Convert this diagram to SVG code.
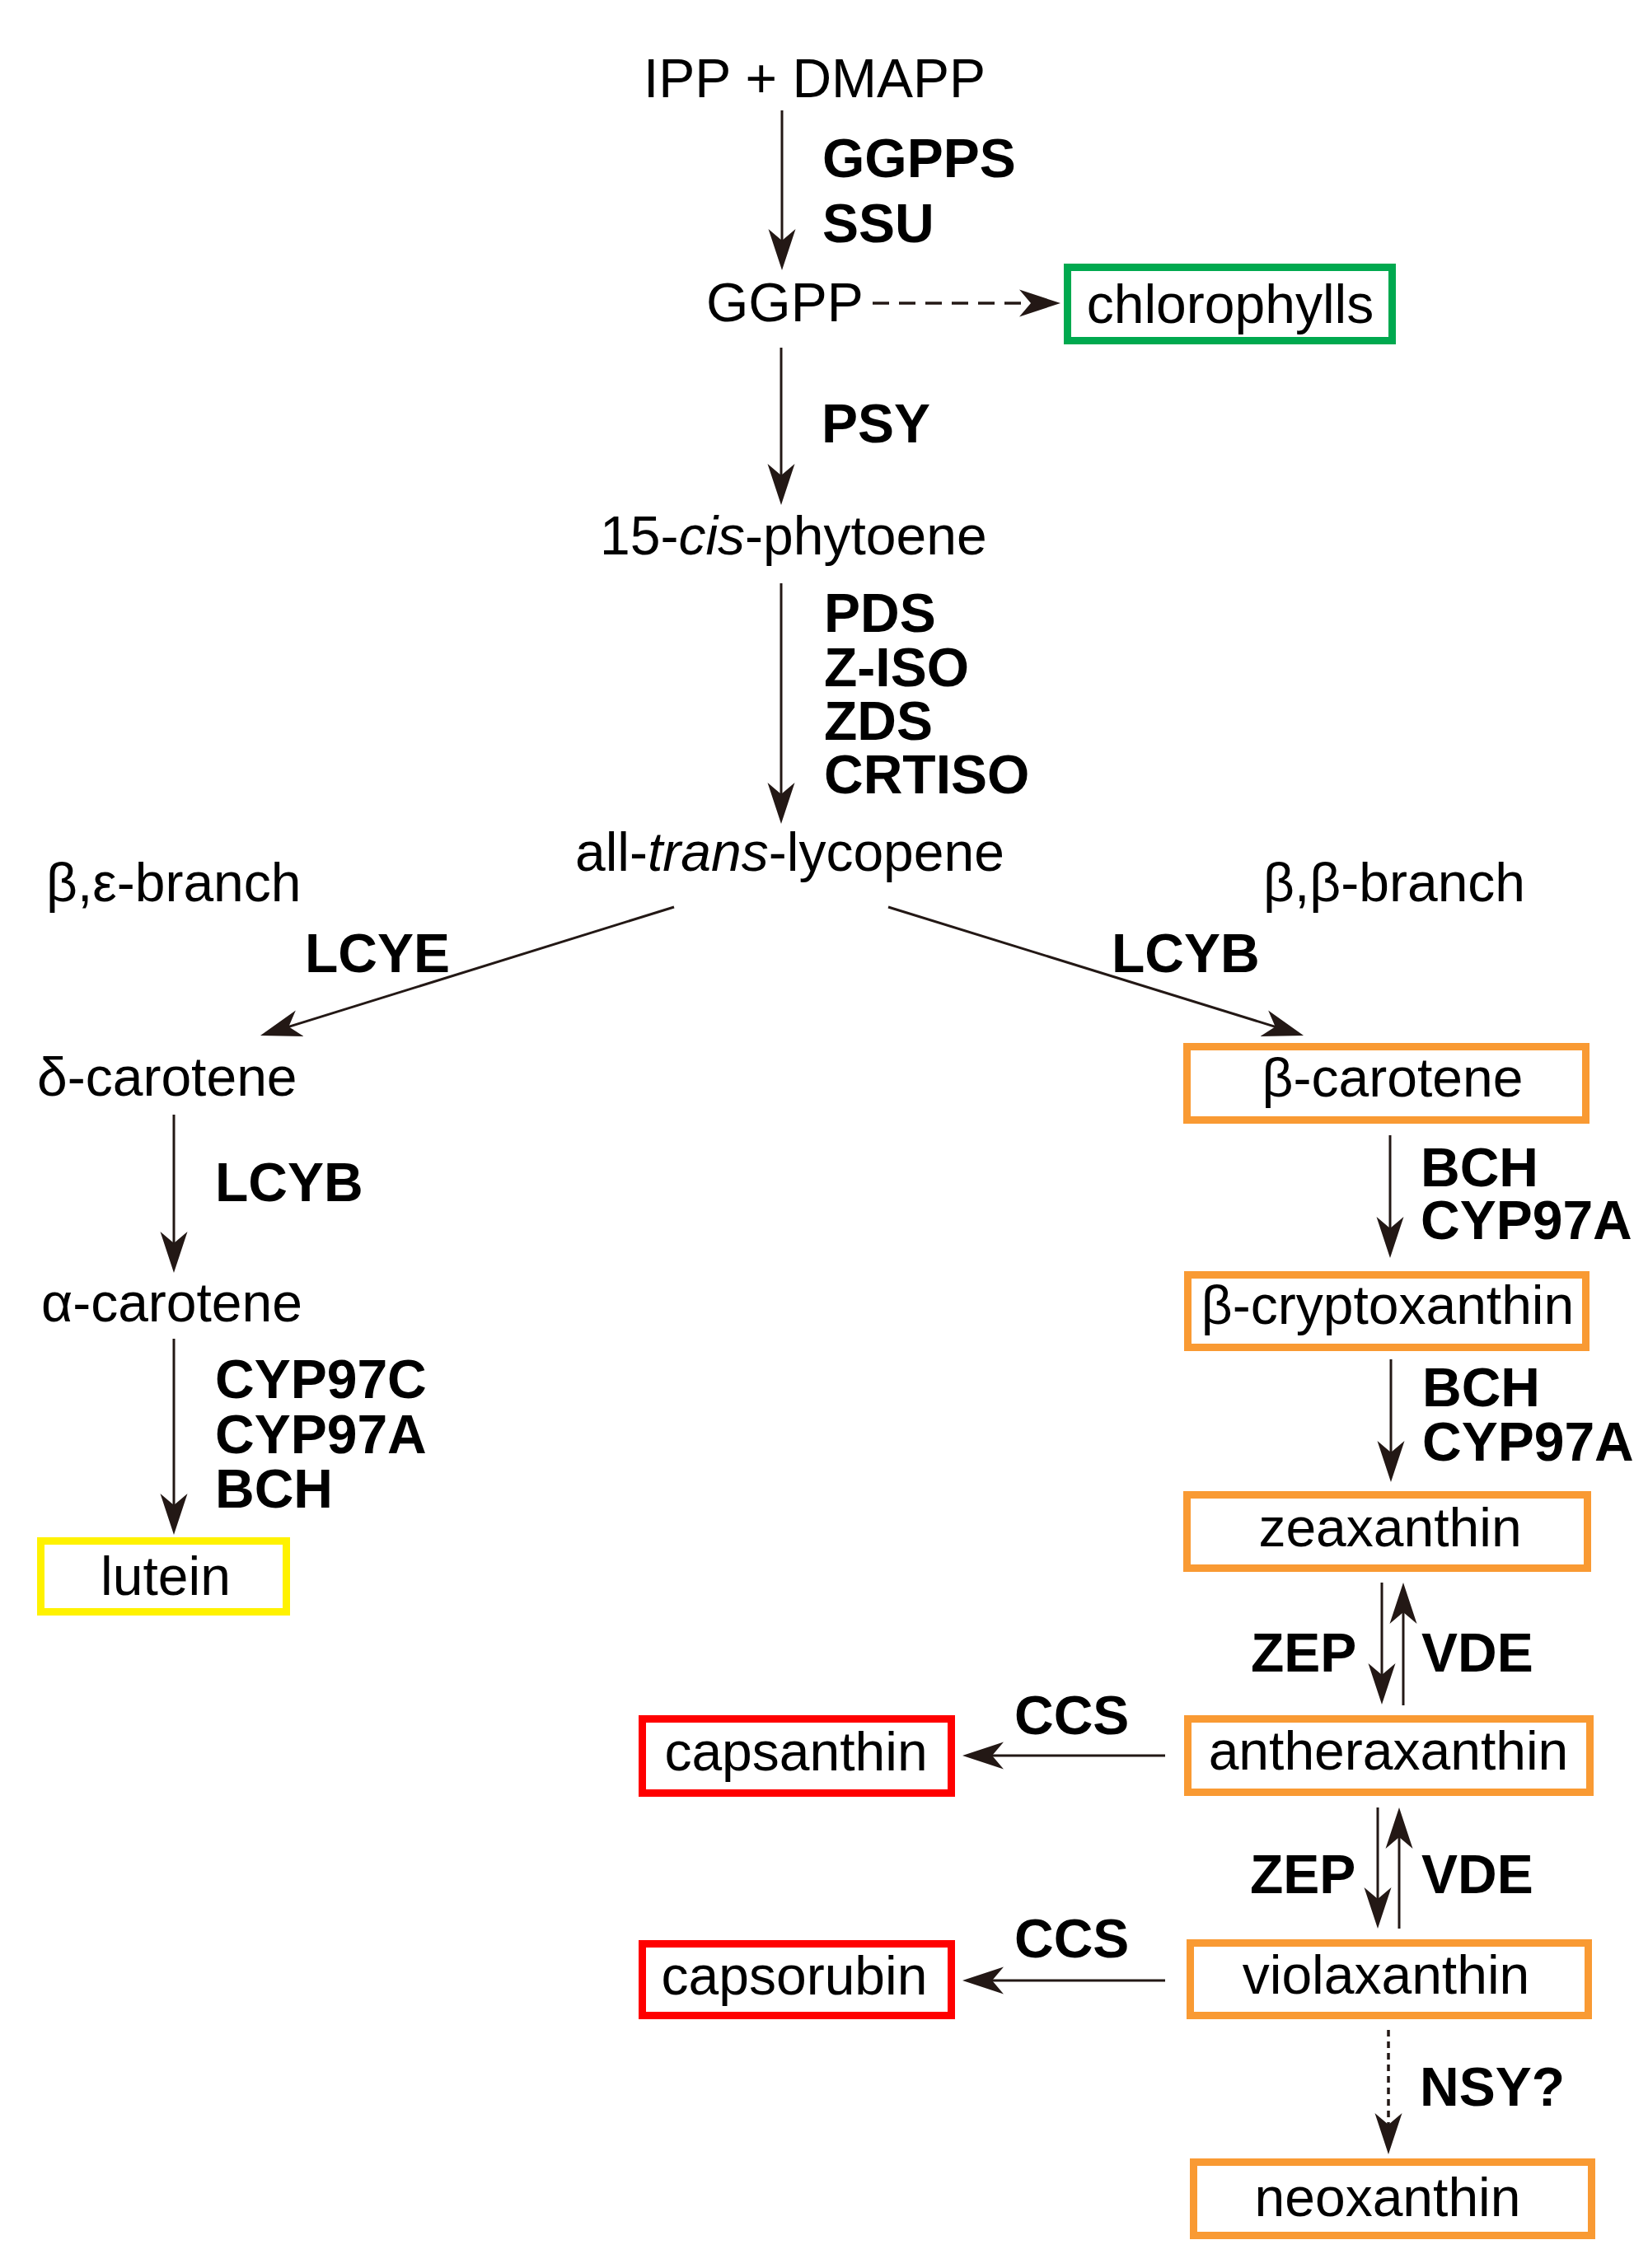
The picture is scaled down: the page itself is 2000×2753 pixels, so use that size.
<svg xmlns="http://www.w3.org/2000/svg" width="2000" height="2753" viewBox="0 0 2000 2753">
<style>
text{font-family:"Liberation Sans",Arial,Helvetica,sans-serif;font-size:66px;fill:#000}
.b{font-weight:bold}
.m{text-anchor:middle}
.box{fill:#fff;stroke-width:9}
.or{stroke:#f99a33}
.rd{stroke:#ff0000}
.gr{stroke:#00a94f}
.ye{stroke:#fff200}
.ar{fill:none;stroke:#231815;stroke-width:3;marker-end:url(#ah)}
.dash{stroke-dasharray:20 12;stroke-width:3.5}
.dot{stroke-dasharray:8 6;stroke-width:3.5}
</style>
<defs>
<marker id="ah" markerUnits="userSpaceOnUse" viewBox="0 -20 60 40" markerWidth="60" markerHeight="40" refX="15" refY="0" orient="auto">
<path d="M0,-16.5 L50,0 L0,16.5 L14,0 Z" fill="#231815"/>
</marker>
</defs>
<rect width="2000" height="2753" fill="#fff"/>
<g id="connectors">
<path class="ar" d="M949,134 V293"/>
<path class="ar dash" d="M1059,368 H1252"/>
<path class="ar" d="M948,422 V578"/>
<path class="ar" d="M948,708 V965"/>
<path class="ar" d="M818,1101 L349.4,1246.6"/>
<path class="ar" d="M1078,1101 L1548.6,1246.6"/>
<path class="ar" d="M211,1353 V1510"/>
<path class="ar" d="M211,1625 V1828"/>
<path class="ar" d="M1687,1378 V1492"/>
<path class="ar" d="M1688,1650 V1764"/>
<path class="ar" d="M1677,1921 V2034"/>
<path class="ar" d="M1703,2070 V1956"/>
<path class="ar" d="M1672,2194 V2306"/>
<path class="ar" d="M1698,2341 V2229"/>
<path class="ar" d="M1414,2131 H1203"/>
<path class="ar" d="M1414,2404 H1203"/>
<path class="ar dot" d="M1685,2464 V2580"/>
</g>
<g id="labels">
<text class="b" x="998" y="215">GGPPS</text>
<text class="b" x="998" y="294">SSU</text>
<text class="b" x="997" y="537">PSY</text>
<text class="b" x="1000" y="767">PDS</text>
<text class="b" x="1000" y="833">Z-ISO</text>
<text class="b" x="1000" y="898">ZDS</text>
<text class="b" x="1000" y="963">CRTISO</text>
<text x="56" y="1094">β,ε-branch</text>
<text x="1533" y="1094">β,β-branch</text>
<text class="b" x="370" y="1180">LCYE</text>
<text class="b" x="1349" y="1180">LCYB</text>
<text class="b" x="261" y="1458">LCYB</text>
<text class="b" x="261" y="1697">CYP97C</text>
<text class="b" x="261" y="1764">CYP97A</text>
<text class="b" x="261" y="1830">BCH</text>
<text class="b" x="1724" y="1440">BCH</text>
<text class="b" x="1724" y="1504">CYP97A</text>
<text class="b" x="1726" y="1707">BCH</text>
<text class="b" x="1726" y="1773">CYP97A</text>
<text class="b" x="1518" y="2029">ZEP</text>
<text class="b" x="1725" y="2029">VDE</text>
<text class="b" x="1517" y="2298">ZEP</text>
<text class="b" x="1725" y="2298">VDE</text>
<text class="b" x="1231" y="2105">CCS</text>
<text class="b" x="1231" y="2376">CCS</text>
<text class="b" x="1723" y="2556">NSY?</text>
</g>
<g id="ipp"><text x="781" y="118">IPP + DMAPP</text></g>
<g id="ggpp"><text x="857" y="390">GGPP</text></g>
<g id="chlorophylls"><rect class="box gr" x="1295.5" y="324.5" width="394" height="89"/><text class="m" x="1493" y="392">chlorophylls</text></g>
<g id="phytoene"><text x="728" y="673">15-<tspan font-style="italic">cis</tspan>-phytoene</text></g>
<g id="lycopene"><text x="698" y="1057">all-<tspan font-style="italic">trans</tspan>-lycopene</text></g>
<g id="delta-carotene"><text x="45" y="1330">δ-carotene</text></g>
<g id="alpha-carotene"><text x="50" y="1604">α-carotene</text></g>
<g id="lutein"><rect class="box ye" x="49.5" y="1870.5" width="298" height="86"/><text class="m" x="201" y="1936">lutein</text></g>
<g id="beta-carotene"><rect class="box or" x="1440.5" y="1270.5" width="484" height="89"/><text class="m" x="1690" y="1331">β-carotene</text></g>
<g id="beta-cryptoxanthin"><rect class="box or" x="1441.5" y="1547.5" width="483" height="88"/><text class="m" x="1684" y="1607">β-cryptoxanthin</text></g>
<g id="zeaxanthin"><rect class="box or" x="1440.5" y="1814.5" width="486" height="89"/><text class="m" x="1687" y="1877">zeaxanthin</text></g>
<g id="antheraxanthin"><rect class="box or" x="1441.5" y="2086.5" width="488" height="89"/><text class="m" x="1685" y="2148">antheraxanthin</text></g>
<g id="capsanthin"><rect class="box rd" x="779.5" y="2086.5" width="375" height="90"/><text class="m" x="966" y="2149">capsanthin</text></g>
<g id="violaxanthin"><rect class="box or" x="1444.5" y="2358.5" width="483" height="88"/><text class="m" x="1682" y="2420">violaxanthin</text></g>
<g id="capsorubin"><rect class="box rd" x="779.5" y="2359.5" width="375" height="87"/><text class="m" x="964" y="2421">capsorubin</text></g>
<g id="neoxanthin"><rect class="box or" x="1448.5" y="2624.5" width="483" height="89"/><text class="m" x="1684" y="2690">neoxanthin</text></g>
</svg>
